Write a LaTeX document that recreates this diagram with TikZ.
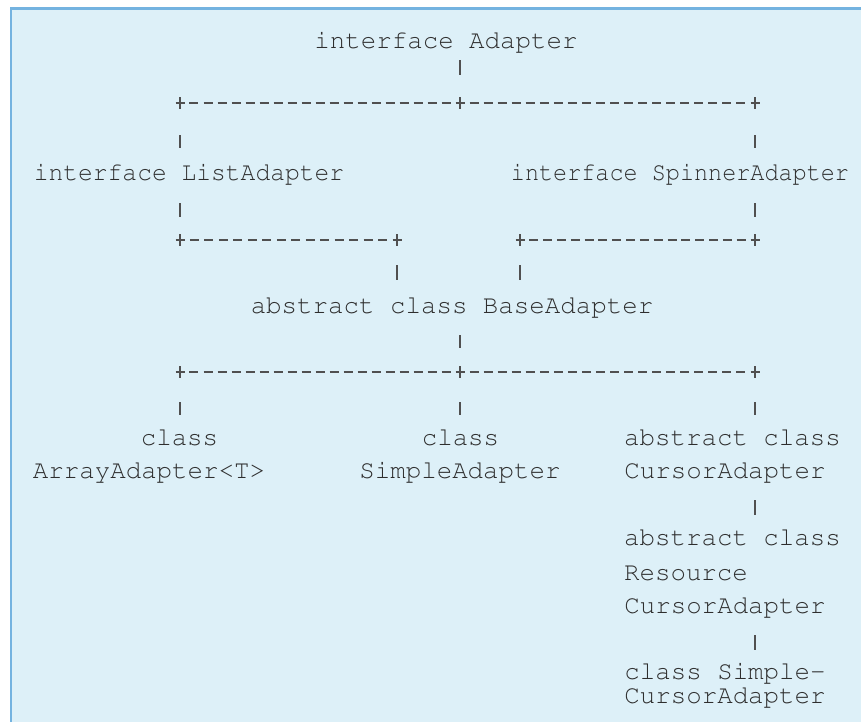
\documentclass[tikz,border=0pt]{standalone}
\usepackage[T1]{fontenc}
\usepackage{courier}
\usepackage{pdfrender}
\usetikzlibrary{calc}
\definecolor{boxfill}{HTML}{DDF0F8}
\definecolor{boxline}{HTML}{74B3E0}
\definecolor{ink}{HTML}{2E2E2E}
\definecolor{lineink}{HTML}{505050}
\newcommand\plusmark[1]{\draw[bar] ($(#1)+(-4.5,0)$) -- ($(#1)+(4.5,0)$) ($(#1)+(0,-6)$) -- ($(#1)+(0,6)$);}
\newcommand\dashrow[3]{\foreach \k in {1,...,#3}{\draw[bar] ($(#1)!\k/(#3+1)!(#2)+(-4.5,0)$) -- ($(#1)!\k/(#3+1)!(#2)+(4.5,0)$);}}
\begin{document}
\begin{tikzpicture}[x=1pt,y=-1pt,
  txt/.style={anchor=base, inner sep=0pt, text=ink, font=\fontfamily{pcr}\fontsize{25.8}{25.8}\selectfont\pdfrender{TextRenderingMode=FillStroke,LineWidth=0.8pt,StrokeColor=ink}},
  bar/.style={draw=lineink, line width=1.3pt}]
\useasboundingbox (0,0) rectangle (861,721);
\begin{scope}
\clip (0,0) rectangle (861,721);
\fill[white] (0,0) rectangle (861,721);
\draw[boxline, fill=boxfill, line width=2.5pt] (11,8.5) rectangle (890,750);
\end{scope}
% labels
\node[txt] (adapter) at (446,48) {interface Adapter};
\node[txt, xscale=0.955] (list) at (189,180) {interface ListAdapter};
\node[txt, xscale=0.91] (spinner) at (680,180) {interface SpinnerAdapter};
\node[txt] (base) at (452,313) {abstract class BaseAdapter};
\node[txt] (array1) at (179.5,445) {class};
\node[txt] (array2) at (149,478) {ArrayAdapter<T>};
\node[txt] (simple1) at (460.5,445) {class};
\node[txt] (simple2) at (460,478) {SimpleAdapter};
\node[txt] (cursor1) at (732.5,445) {abstract class};
\node[txt] (cursor2) at (725,478) {CursorAdapter};
\node[txt] (res1) at (732.5,545) {abstract class};
\node[txt] (res2) at (686,580) {Resource};
\node[txt] (res3) at (725,613) {CursorAdapter};
\node[txt] (sc1) at (725,679) {class Simple-};
\node[txt] (sc2) at (725,703) {CursorAdapter};
% junctions
\coordinate (j1) at (180,103); \coordinate (j2) at (460,103); \coordinate (j3) at (755,103);
\coordinate (j4) at (180,240); \coordinate (j5) at (397,240); \coordinate (j6) at (520,240); \coordinate (j7) at (755,240);
\coordinate (j8) at (180,372); \coordinate (j9) at (460,372); \coordinate (j10) at (755,372);
\dashrow{j1}{j2}{19}
\dashrow{j2}{j3}{20}
\dashrow{j4}{j5}{14}
\dashrow{j6}{j7}{16}
\dashrow{j8}{j9}{19}
\dashrow{j9}{j10}{20}
\plusmark{j1}\plusmark{j2}\plusmark{j3}
\plusmark{j4}\plusmark{j5}\plusmark{j6}\plusmark{j7}
\plusmark{j8}\plusmark{j9}\plusmark{j10}
% vertical bars
\draw[bar] (460,60) -- (460,75);
\draw[bar] (180,135) -- (180,148);
\draw[bar] (755,135) -- (755,148);
\draw[bar] (180,203) -- (180,217);
\draw[bar] (755,203) -- (755,217);
\draw[bar] (397,265) -- (397,280);
\draw[bar] (520,265) -- (520,280);
\draw[bar] (460,335) -- (460,348);
\draw[bar] (180,402) -- (180,415);
\draw[bar] (460,402) -- (460,415);
\draw[bar] (755,402) -- (755,415);
\draw[bar] (755,500) -- (755,515);
\draw[bar] (755,635) -- (755,650);
\end{tikzpicture}
\end{document}
